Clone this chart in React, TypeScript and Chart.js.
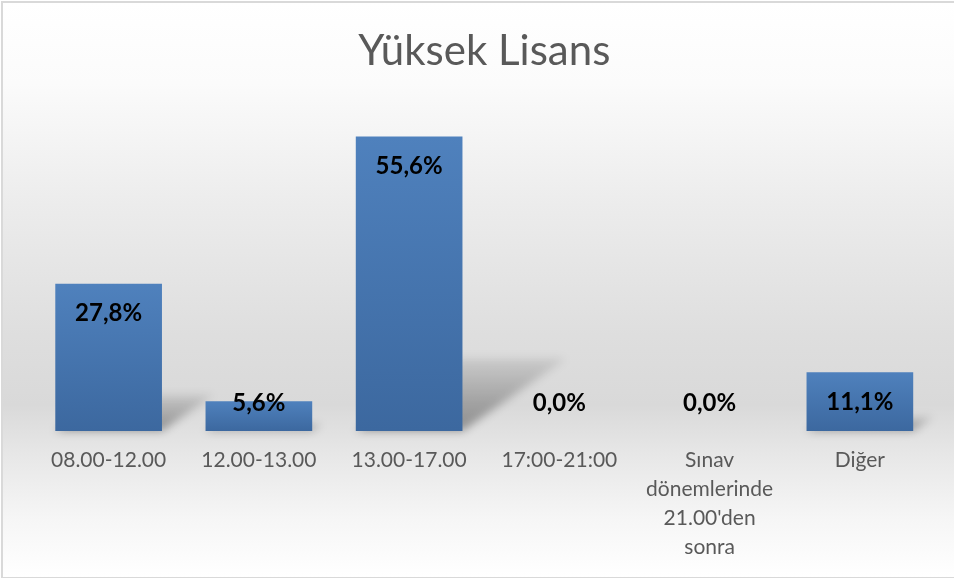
import React, { useEffect, useRef } from "react";
import { Chart, registerables } from "chart.js";

Chart.register(...registerables);

const chartTitle = "Yüksek Lisans";
const categories: (string | string[])[] = [
  "08.00-12.00",
  "12.00-13.00",
  "13.00-17.00",
  "17:00-21:00",
  ["Sınav", "dönemlerinde", "21.00'den", "sonra"],
  "Diğer",
];
const values = [27.8, 5.6, 55.6, 0.0, 0.0, 11.1];
const valueLabels = ["27,8%", "5,6%", "55,6%", "0,0%", "0,0%", "11,1%"];
const yMin = 0;
const yMax = 60;

const FONT = "Lato, 'Open Sans', sans-serif";

const shadowPlugin = {
  id: "barShadow",
  beforeDatasetsDraw(chart: any) {
    const ctx = chart.ctx as CanvasRenderingContext2D;
    const meta = chart.getDatasetMeta(0);
    ctx.save();
    ctx.filter = "blur(4px)";
    meta.data.forEach((el: any) => {
      const { x, y, base, width } = el.getProps(["x", "y", "base", "width"], true);
      const bh = base - y;
      if (!isFinite(bh) || bh <= 1) return;
      const h = bh * 0.246;
      const dx = h * 1.43;
      const l = x - width / 2;
      const r = x + width / 2;
      const g = ctx.createLinearGradient(0, base, 0, base - h);
      g.addColorStop(0, "rgba(0,0,0,0.36)");
      g.addColorStop(1, "rgba(0,0,0,0.08)");
      ctx.fillStyle = g;
      ctx.beginPath();
      ctx.moveTo(l, base);
      ctx.lineTo(r, base);
      ctx.lineTo(r + dx, base - h);
      ctx.lineTo(l + dx, base - h);
      ctx.closePath();
      ctx.fill();
    });
    ctx.restore();
  },
};

const labelPlugin = {
  id: "valueLabels",
  afterDatasetsDraw(chart: any) {
    const ctx = chart.ctx as CanvasRenderingContext2D;
    const meta = chart.getDatasetMeta(0);
    ctx.save();
    ctx.font = `bold 24px ${FONT}`;
    ctx.fillStyle = "#000000";
    ctx.textAlign = "center";
    ctx.textBaseline = "middle";
    meta.data.forEach((el: any, i: number) => {
      const { x, y, base } = el.getProps(["x", "y", "base"], true);
      const ly = Math.min(y + 30, base - 28);
      ctx.fillText(valueLabels[i], x, ly);
    });
    ctx.restore();
  },
};

export default function App() {
  const ref = useRef<HTMLCanvasElement | null>(null);

  useEffect(() => {
    if (!ref.current) return;
    const chart = new Chart(ref.current, {
      type: "bar",
      data: {
        labels: categories as any,
        datasets: [
          {
            data: values,
            backgroundColor: (c: any) => {
              const ch = c.chart;
              const ys = ch.scales && ch.scales.y;
              if (!ys || c.type !== "data") return "#4a7ebb";
              const top = ys.getPixelForValue(values[c.dataIndex]);
              const bot = ys.getPixelForValue(0);
              if (!isFinite(top) || !isFinite(bot) || bot - top < 1) return "#4a7ebb";
              const g = ch.ctx.createLinearGradient(0, top, 0, bot);
              g.addColorStop(0, "#4f81bd");
              g.addColorStop(1, "#3c689f");
              return g;
            },
            borderWidth: 0,
            barPercentage: 0.71,
            categoryPercentage: 1,
          },
        ],
      },
      options: {
        responsive: false,
        animation: false,
        devicePixelRatio: 1,
        layout: { padding: { left: 33.5, right: 19, top: 0, bottom: 1 } },
        plugins: {
          legend: { display: false },
          tooltip: { enabled: false },
          title: {
            display: true,
            text: chartTitle,
            color: "#595959",
            font: { family: FONT, size: 42, weight: "400" as any, lineHeight: 1.2 },
            padding: { top: 26.2, bottom: 36.6 },
          },
        },
        scales: {
          y: { display: false, min: yMin, max: yMax },
          x: {
            grid: { display: false, drawTicks: false },
            border: { display: false },
            ticks: {
              color: "#595959",
              padding: 15,
              maxRotation: 0,
              autoSkip: false,
              font: { family: FONT, size: 21, lineHeight: 29 / 21 },
            },
          },
        },
      },
      plugins: [shadowPlugin, labelPlugin],
    });
    chart.update();
    return () => chart.destroy();
  }, []);

  return (
    <div style={{ position: "absolute", left: 0, top: 0, width: 954, height: 578, overflow: "hidden" }}>
      <div
        style={{
          position: "absolute",
          left: 1,
          top: 1,
          width: 960,
          height: 574,
          border: "2px solid #d9d9d9",
          background:
            "linear-gradient(to bottom, #ffffff 0%, #fbfbfb 14%, #ececec 35%, #dedede 58%, #d9d9d9 70%, #e6e6e6 78%, #f6f6f6 90%, #ffffff 100%)",
        }}
      />
      <canvas ref={ref} width={954} height={578} style={{ position: "absolute", left: 0, top: 0 }} />
    </div>
  );
}
